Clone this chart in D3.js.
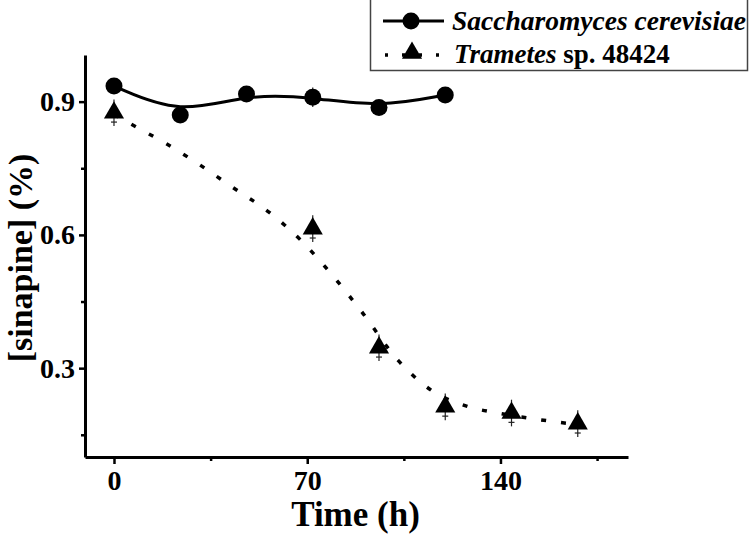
<!DOCTYPE html>
<html>
<head>
<meta charset="utf-8">
<script src="https://cdn.jsdelivr.net/npm/d3@7"></script>
<style>
  body { margin: 0; background: #fff; }
  svg { display: block; }
</style>
</head>
<body>
<div id="chart"></div>
<script>
// Saccharomyces cerevisiae
const yeastHours = [0, 24, 48, 72, 96, 120];
const yeastValues = [0.935, 0.870, 0.917, 0.910, 0.887, 0.915];
const yeastErrors = [0.01, 0.01, 0.01, 0.022, 0.01, 0.01];

// Trametes sp. 48424
const trametesHours = [0, 72, 96, 120, 144, 168];
const trametesValues = [0.875, 0.614, 0.346, 0.213, 0.199, 0.175];
const trametesErrors = [0.03, 0.03, 0.03, 0.03, 0.03, 0.03];

// fitted curve for Trametes
const fitHours = [0, 6, 19, 31, 43, 56, 68, 79, 89, 103, 115, 128, 140, 152, 165];
const fitValues = [0.871, 0.850, 0.805, 0.758, 0.707, 0.652, 0.586, 0.510, 0.433, 0.317, 0.250, 0.214, 0.198, 0.186, 0.175];

const xTicks = [0, 70, 140];
const xMinorTicks = [35, 105, 175];
const yTicks = [0.3, 0.6, 0.9];
const yMinorTicks = [0.15, 0.45, 0.75];

const seriesNames = ['Saccharomyces cerevisiae', 'Trametes'];

const width = 750;
const height = 535;
const font = '"Liberation Serif", "Times New Roman", serif';

const svg = d3.select('#chart')
  .append('svg')
  .attr('width', width)
  .attr('height', height)
  .style('font-family', font);

const x = d3.scaleLinear().domain([-10.5, 186.2]).range([85, 628]);
const y = d3.scaleLinear().domain([0.1, 1.005]).range([457, 55]);

const toPoints = (hs, vs, es) => hs.map((h, i) => ({ hour: h, value: vs[i], err: es ? es[i] : 0 }));
const yeast = toPoints(yeastHours, yeastValues, yeastErrors);
const trametes = toPoints(trametesHours, trametesValues, trametesErrors);
const fit = toPoints(fitHours, fitValues);

// Axes
const xAxis = svg.append('g')
  .attr('transform', `translate(0,${y.range()[0]})`)
  .call(d3.axisBottom(x).tickValues(xTicks).tickSize(7).tickSizeOuter(0).tickPadding(6));
xAxis.select('.domain').attr('stroke-width', 3);
xAxis.selectAll('.tick line').attr('stroke-width', 2.5);
xAxis.selectAll('.tick text')
  .style('font-family', font)
  .style('font-size', '28px')
  .style('font-weight', 'bold')
  .attr('fill', '#000');

svg.append('g')
  .attr('transform', `translate(0,${y.range()[0]})`)
  .call(d3.axisBottom(x).tickValues(xMinorTicks).tickSize(4).tickFormat(''))
  .call((g) => g.select('.domain').remove())
  .selectAll('.tick line').attr('stroke-width', 2.5);

const yAxis = svg.append('g')
  .attr('transform', `translate(${x.range()[0]},0)`)
  .call(d3.axisLeft(y).tickValues(yTicks).tickFormat(d3.format('.1f')).tickSize(6).tickSizeOuter(0).tickPadding(4));
yAxis.select('.domain').attr('stroke-width', 3);
yAxis.selectAll('.tick line').attr('stroke-width', 2.5);
yAxis.selectAll('.tick text')
  .style('font-family', font)
  .style('font-size', '28px')
  .style('font-weight', 'bold')
  .attr('fill', '#000');

svg.append('g')
  .attr('transform', `translate(${x.range()[0]},0)`)
  .call(d3.axisLeft(y).tickValues(yMinorTicks).tickSize(4).tickFormat(''))
  .call((g) => g.select('.domain').remove())
  .selectAll('.tick line').attr('stroke-width', 2.5);

// Axis titles
svg.append('text')
  .attr('x', (x.range()[0] + x.range()[1]) / 2 - 1)
  .attr('y', 526)
  .attr('text-anchor', 'middle')
  .style('font-size', '35px')
  .style('font-weight', 'bold')
  .text('Time (h)');

svg.append('text')
  .attr('transform', 'translate(32,258) rotate(-90)')
  .attr('text-anchor', 'middle')
  .style('font-size', '34px')
  .style('font-weight', 'bold')
  .text('[sinapine] (%)');

// Trametes fitted curve (dotted)
svg.append('path')
  .datum(fit)
  .attr('fill', 'none')
  .attr('stroke', '#000')
  .attr('stroke-width', 3.5)
  .attr('stroke-dasharray', '5 15')
  .attr('d', d3.line().x((d) => x(d.hour)).y((d) => y(d.value)).curve(d3.curveMonotoneX));

// Yeast smooth curve
svg.append('path')
  .datum(yeast)
  .attr('fill', 'none')
  .attr('stroke', '#000')
  .attr('stroke-width', 3)
  .attr('d', d3.line().x((d) => x(d.hour)).y((d) => y(d.value)).curve(d3.curveBasis));

// Error bars
function errorBars(data) {
  const g = svg.append('g').attr('stroke', '#222').attr('stroke-width', 1.2);
  g.selectAll('line.v').data(data).join('line')
    .attr('x1', (d) => x(d.hour)).attr('x2', (d) => x(d.hour))
    .attr('y1', (d) => y(d.value + d.err)).attr('y2', (d) => y(d.value - d.err));
  g.selectAll('line.c').data(data).join('line')
    .attr('x1', (d) => x(d.hour) - 3).attr('x2', (d) => x(d.hour) + 3)
    .attr('y1', (d) => y(d.value - d.err * 0.7)).attr('y2', (d) => y(d.value - d.err * 0.7));
}
errorBars(trametes);
errorBars(yeast);

// Markers
svg.append('g').selectAll('circle').data(yeast).join('circle')
  .attr('cx', (d) => x(d.hour))
  .attr('cy', (d) => y(d.value))
  .attr('r', 8.5)
  .attr('fill', '#000');

const tri = d3.symbol().type(d3.symbolTriangle).size(175);
svg.append('g').selectAll('path').data(trametes).join('path')
  .attr('transform', (d) => `translate(${x(d.hour)},${y(d.value)})`)
  .attr('d', tri)
  .attr('fill', '#000');

// Legend
const legend = svg.append('g');
legend.append('rect')
  .attr('x', 370.5).attr('y', -2)
  .attr('width', 377).attr('height', 72.5)
  .attr('fill', '#fff')
  .attr('stroke', '#444')
  .attr('stroke-width', 1.5);

legend.append('line')
  .attr('x1', 383).attr('x2', 444).attr('y1', 21).attr('y2', 21)
  .attr('stroke', '#000').attr('stroke-width', 3);
legend.append('circle').attr('cx', 411).attr('cy', 21).attr('r', 8.5).attr('fill', '#000');

legend.append('line')
  .attr('x1', 385).attr('x2', 450).attr('y1', 55).attr('y2', 55)
  .attr('stroke', '#000').attr('stroke-width', 3.5)
  .attr('stroke-dasharray', '3 14');
legend.append('path')
  .attr('transform', 'translate(412,53)')
  .attr('d', tri)
  .attr('fill', '#000');

legend.append('text')
  .attr('x', 452).attr('y', 30)
  .style('font-size', '27.5px').style('font-weight', 'bold').style('font-style', 'italic')
  .text(seriesNames[0]);

const t2 = legend.append('text')
  .attr('x', 454).attr('y', 63)
  .style('font-size', '27px').style('font-weight', 'bold');
t2.append('tspan').style('font-style', 'italic').text(seriesNames[1]);
t2.append('tspan').text(' sp. 48424');
</script>
</body>
</html>
